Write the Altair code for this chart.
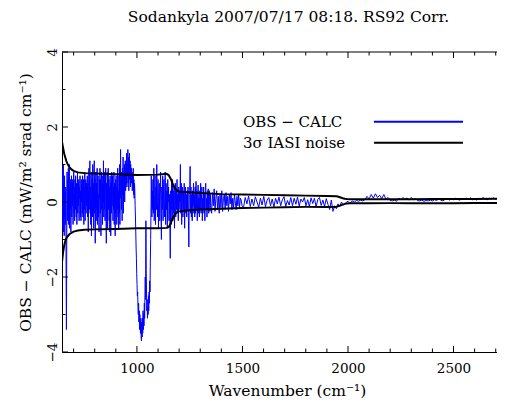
import altair as alt
import pandas as pd

TITLE = "Sodankyla 2007/07/17 08:18. RS92 Corr."
X_TITLE = "Wavenumber (cm⁻¹)"
Y_TITLE = "OBS − CALC (mW/m² srad cm⁻¹)"
FONT = "DejaVu Serif"

seg_a_start, seg_a_step = 645, 1.5
seg_a = [
    0.2, -0.7, 0.9, -0.3, 1.0, -0.8, 0.5, -0.9, 0.7, -0.4, 0.3, -0.6, 0.4, -2.0, -3.4, -1.2, 0.8, -0.5, 0.6, -0.2,
    0.9, -0.6, 0.3, 1.0, -0.7, 0.4, -0.2, 0.6, -0.8, 0.2, 0.7, -0.4, 0.5, -0.1, 0.6, -0.6, 0.3, 0.8, -0.3, 0.4,
    -0.5, 0.6, -0.2, 0.7, 0.0, -0.4, 0.5, -0.6, 0.3, 0.8, -0.3, 0.5, -0.1, 0.6, -0.5, 0.4, 0.1, 0.7, -0.4, 0.3,
    -0.5, 0.6, 0.0, 0.5, -0.3, 0.7, -0.4, 0.2, 0.6, -0.6, 0.4, -0.2, 0.8, -0.5, 0.3, 0.6, -0.3, 0.5, -0.1, 0.4,
    0.7, -0.4, 0.5, -0.8, 0.3, 0.9, -0.2, 0.6, 1.1, -0.3, 0.4, -0.6, 0.8, -0.9, 0.2, 0.6, -0.4, 1.0, -0.2, 0.5,
    -0.7, 0.9, 1.1, -0.3, 0.6, -1.1, 0.3, 0.8, -0.5, 0.5, -0.2, 0.9, -0.6, 0.4, 0.7, -0.4, 0.2, -0.8, 0.6, 0.1,
    0.9, -0.3, 0.6, -0.9, 0.4, 0.8, -0.2, 0.5, -0.6, 0.7, 0.0, 1.1, -0.4, 0.6, -0.2, 0.8, -0.5, 0.3, 0.9, -0.3,
    -1.1, 0.5, -0.4, 0.8, -0.7, 0.3, 0.9, -0.2, 0.6, -0.5, 0.4, -0.8, 0.7, 0.1, -0.9, 0.5, -0.3, 0.8, -0.1, 0.4,
    0.7, -0.5, 0.4, -0.2, 0.8, -0.6, 0.5, 0.0, -0.9, 0.6, -0.3, 0.7, 0.2, -0.6, 0.4, -0.2, 0.9, -0.4, 0.3, -0.7,
    0.7, -0.3, 1.0, -0.6, 0.5, 1.4, 0.1, 0.8, -0.2, 0.6, -0.5, 0.9, 0.2, 1.2, -0.3, 0.7, 0.3, 1.0, 0.0, 0.8,
    1.1, 0.3, 0.9, 0.5, 1.3, 0.4, 1.0, 0.7, 1.4, 0.5, 1.2, 0.3, 0.9, 1.3, 0.6, 1.1, 0.4, 1.0, 0.6, 0.9,
    0.5, 0.8, 0.3, 0.7, 0.4, 0.9, 0.2, 0.6, 0.1, 0.5, 0.3,
]
seg_b_start, seg_b_step = 991.5, 1.5
seg_b = [
    -0.1, -0.4, -0.8, -1.2, -1.5, -1.9, -2.2, -2.5, -2.4, -2.8, -3.0, -2.7, -3.2, -2.9, -3.4, -3.0, -3.3, -3.5, -3.1, -3.6,
    -3.7, -3.2, -3.6, -3.1, -3.5, -2.9, -3.4, -3.0, -3.3, -2.7, -3.1, -2.5, -2.0, -2.6, -0.5, -1.8, -2.4, -2.9, -2.6, -3.1,
    -2.8, -3.0, -2.5, -2.9, -2.4, -2.7, -2.1, -2.4, -1.6, -1.0, -0.3, 0.7, 0.1, -0.4, 0.3, -0.2,
]
seg_c_start, seg_c_step = 1076, 2
seg_c = [
    0.6, -0.3, 0.9, -0.5, 0.2, 0.7, -0.6, 0.4, -0.2, 1.0, 0.1, -0.4, 0.6, -0.7, 0.3, 0.5, -0.5, 0.2, 0.8, -0.3,
    -1.0, 0.4, -0.2, 0.7, -0.5, 0.3, 0.6, -0.4, 0.1, 0.8, -0.6, 0.5, -0.2, 0.3, -0.7, 0.6, 0.0, 0.4, -0.5, 0.2,
    -0.4, -1.5, 0.3, -0.6, 0.5, -0.2, 0.6, -0.5, 0.3, -0.3, 0.4, -0.7, 0.2, 0.5, -0.4, 0.3, -0.2, 0.6, -0.3, 0.2,
    -0.5, 0.4, -0.2, 0.3, 0.0, 1.0, -0.3, 0.5, -0.6, 0.2, 0.4, -0.4, 0.3, -0.2, 0.5, -0.7, 0.1, 0.4, -0.3, 0.2,
    -0.4, 0.3, -0.2, 0.4, -0.5, -1.2, 0.2, 0.3, 0.95, -0.3, 0.4, -0.4, 0.2, -0.5, 0.3, -0.1, 0.5, -0.3, 0.2, -0.4,
    0.4, -0.3, 0.55, -0.2, 0.3, -0.5, 0.2, 0.45, -0.3, 0.1, -0.4, 0.3, -0.2, 0.5, -0.3, 0.2, 0.4, -0.5, 0.1, -0.2,
    0.4, -0.3, 0.2, -0.5, 0.3, 0.5, -0.2, 0.1, -0.4, 0.3, -0.2, 0.35, -0.3, 0.1, 0.3, -0.25, 0.2, -0.1,
]
seg_d_start, seg_d_step = 1354, 4
seg_d = [
    -0.3, 0.25, -0.1, 0.35, -0.25, 0.1, 0.3, -0.2, 0.15, -0.3,
    0.2, -0.15, 0.3, -0.25, 0.1, 0.2, -0.2, 0.25, -0.1, 0.15,
    -0.25, 0.2, -0.05, 0.25, -0.2, 0.1, -0.15, 0.2, 0.0, -0.2,
    0.15, -0.1, 0.2, -0.15, 0.1, 0.05, -0.1,
]
seg_e_start, seg_e_step = 1505, 8
seg_e = [
    -0.15, 0.12, -0.05, 0.16, -0.12, 0.08, -0.1, 0.14, 0.0, -0.14,
    0.1, -0.08, 0.15, -0.12, 0.05, 0.12, -0.1, 0.08, -0.13, 0.1,
    -0.05, 0.13, -0.1, 0.06, 0.14, -0.12, 0.04, -0.08, 0.12, -0.1,
    0.1, -0.06, 0.13, -0.11, 0.08, 0.0, 0.12, -0.1, 0.06, -0.12,
    0.11, -0.04, 0.1, -0.13, 0.07, 0.12, -0.09, 0.05, -0.12, 0.09,
    -0.06, -0.2, 0.05, -0.25, -0.1, -0.18, -0.05, -0.12, 0.0, -0.08,
    -0.05, 0.0,
]
seg_f_start, seg_f_step = 2000, 10
seg_f = [
    0.02, -0.04, 0.03, 0.0, 0.04, 0.02, 0.05, 0.03, 0.06, 0.15,
    0.08, 0.2, 0.1, 0.22, 0.12, 0.18, 0.09, 0.2, 0.07, 0.12,
    0.04, 0.03, 0.05, 0.02, 0.1, 0.06, 0.12, 0.07, 0.11, 0.05,
    0.12, 0.06, 0.09, 0.04, 0.03, 0.05, 0.02, 0.04, 0.03, 0.05,
    0.03, 0.06, 0.04, 0.08, 0.05, 0.03, 0.07, 0.09, 0.05, 0.08,
    0.06, 0.1, 0.07, 0.05, 0.09, 0.06, 0.1, 0.07, 0.11, 0.06,
    0.09, 0.05, 0.1, 0.07, 0.12, 0.08, 0.06, 0.1, 0.08, 0.11,
    0.07, 0.1, 0.08, 0.12, 0.09, 0.1, 0.08,
]

# ---- 3 sigma IASI noise envelope ----
band_x = [645, 650, 655, 660, 665, 670, 680, 690, 700, 720,
          750, 800, 900, 1000, 1100, 1140, 1150, 1160, 1170, 1180,
          1190, 1200, 1210, 1250, 1300, 1400, 1500, 1600, 1700, 1800,
          1900, 1945, 1955, 1965, 1975, 1985, 1995, 2010, 2100, 2200,
          2300, 2400, 2500, 2600, 2700, 2760]
band_upper = [1.6, 1.45, 1.3, 1.2, 1.1, 1.03, 0.93, 0.87, 0.83, 0.79,
              0.77, 0.76, 0.74, 0.72, 0.73, 0.75, 0.72, 0.62, 0.48, 0.37,
              0.31, 0.28, 0.27, 0.26, 0.24, 0.21, 0.2, 0.19, 0.18, 0.17,
              0.16, 0.155, 0.14, 0.12, 0.1, 0.085, 0.08, 0.075, 0.075, 0.075,
              0.075, 0.08, 0.08, 0.08, 0.085, 0.085]
band_lower = [-1.6, -1.35, -1.17, -1.05, -0.98, -0.93, -0.86, -0.82, -0.79, -0.76,
              -0.74, -0.73, -0.72, -0.7, -0.7, -0.69, -0.67, -0.57, -0.43, -0.33,
              -0.27, -0.25, -0.24, -0.22, -0.2, -0.18, -0.16, -0.15, -0.14, -0.13,
              -0.13, -0.125, -0.11, -0.09, -0.07, -0.05, -0.04, -0.035, -0.035, -0.03,
              -0.03, -0.03, -0.03, -0.025, -0.025, -0.025]

# ---- legend entries (drawn inside the plot) ----
legend_labels = ["OBS − CALC", "3σ IASI noise"]
legend_colors = ["#0000ff", "#000000"]
legend_y = [2.14, 1.58]
legend_text_x = [1502, 1502]
legend_line_x1 = [2123, 2123]
legend_line_x2 = [2545, 2545]

# ---- axes ----
x_domain = [645, 2706]
y_domain = [-4, 4]
x_major = [1000, 1500, 2000, 2500]
x_minor = [700, 800, 900, 1100, 1200, 1300, 1400, 1600, 1700, 1800, 1900,
           2100, 2200, 2300, 2400, 2600, 2700]
y_major = [-4, -2, 0, 2, 4]
y_minor = [-3, -1, 1, 3]

W, H = 435, 300
MAJ, MIN = 6, 3.5

obs_x, obs_y = [], []
for start, step, vals in [(seg_a_start, seg_a_step, seg_a), (seg_b_start, seg_b_step, seg_b),
                          (seg_c_start, seg_c_step, seg_c), (seg_d_start, seg_d_step, seg_d),
                          (seg_e_start, seg_e_step, seg_e), (seg_f_start, seg_f_step, seg_f)]:
    for i, v in enumerate(vals):
        obs_x.append(start + i * step)
        obs_y.append(v)

df_obs = pd.DataFrame({"wn": obs_x, "val": obs_y})
df_band = pd.DataFrame({"wn": band_x, "upper": band_upper, "lower": band_lower})
df_leg = pd.DataFrame({"label": legend_labels, "color": legend_colors, "y": legend_y,
                       "tx": legend_text_x, "x1": legend_line_x1, "x2": legend_line_x2})
df_frame = pd.DataFrame({"a": [x_domain[0]], "b": [x_domain[1]]})

xs = alt.Scale(domain=x_domain, nice=False, zero=False)
ys = alt.Scale(domain=y_domain, nice=False, zero=False)

obs = alt.Chart(df_obs).mark_line(color="#0000ff", strokeWidth=1, clip=True).encode(
    x=alt.X("wn:Q", scale=xs, axis=alt.Axis(
        orient="bottom", values=x_major, ticks=False, labelPadding=9, format="d",
        title=X_TITLE, titleX=225, titleY=38, titleAlign="center", titleBaseline="middle",
        domain=True)),
    y=alt.Y("val:Q", scale=ys, axis=alt.Axis(
        orient="left", values=y_major, ticks=False, labelAngle=270, labelAlign="center",
        labelBaseline="bottom", labelPadding=3, title=Y_TITLE, titlePadding=12, domain=True)),
)

upper = alt.Chart(df_band).mark_line(color="#000000", strokeWidth=2, clip=True).encode(
    x=alt.X("wn:Q", scale=xs, axis=None),
    y=alt.Y("upper:Q", scale=ys, axis=None),
)
lower = alt.Chart(df_band).mark_line(color="#000000", strokeWidth=2, clip=True).encode(
    x=alt.X("wn:Q", scale=xs, axis=None),
    y=alt.Y("lower:Q", scale=ys, axis=None),
)

leg_text = alt.Chart(df_leg).mark_text(
    align="left", baseline="middle", font=FONT, fontSize=15, color="black").encode(
    x=alt.X("tx:Q", scale=xs, axis=None),
    y=alt.Y("y:Q", scale=ys, axis=None),
    text="label:N",
)
leg_line = alt.Chart(df_leg).mark_rule(strokeWidth=2).encode(
    x=alt.X("x1:Q", scale=xs, axis=None),
    x2="x2:Q",
    y=alt.Y("y:Q", scale=ys, axis=None),
    color=alt.Color("color:N", scale=None),
)

# frame top edge and inward ticks
top_edge = alt.Chart(df_frame).mark_rule(color="black", strokeWidth=1).encode(
    x=alt.X("a:Q", scale=xs, axis=None), x2="b:Q", y=alt.value(0))


def xticks(vals, y0, y1):
    return alt.Chart(pd.DataFrame({"t": vals})).mark_rule(color="black", strokeWidth=1).encode(
        x=alt.X("t:Q", scale=xs, axis=None), y=alt.value(y0), y2=alt.value(y1))


def yticks(vals, length):
    return alt.Chart(pd.DataFrame({"t": vals})).mark_rule(color="black", strokeWidth=1).encode(
        y=alt.Y("t:Q", scale=ys, axis=None), x=alt.value(0), x2=alt.value(length))


ticks = [
    xticks(x_major, H, H - MAJ), xticks(x_minor, H, H - MIN),
    xticks(x_major, 0, MAJ), xticks(x_minor, 0, MIN),
    yticks(y_major, MAJ), yticks(y_minor, MIN),
]

chart = alt.layer(obs, upper, lower, leg_text, leg_line, top_edge, *ticks).resolve_axis(
    x="independent", y="independent"
).properties(
    width=W, height=H,
    title=alt.TitleParams(TITLE, font=FONT, fontSize=15.5, fontWeight="normal",
                          anchor="middle", frame="group", dx=9, offset=22, color="black"),
    autosize=alt.AutoSizeParams(type="none"),
    padding={"left": 54, "top": 44, "right": 0, "bottom": 46},
).configure_view(stroke=None).configure_axis(
    grid=False, domainColor="black", tickColor="black", labelColor="black", titleColor="black",
    domainWidth=1, tickWidth=1, labelFont=FONT, titleFont=FONT, labelFontSize=13.5,
    titleFontSize=15.5, titleFontWeight="normal",
)

chart.save("out.html", embed_options={"renderer": "svg", "actions": False})
